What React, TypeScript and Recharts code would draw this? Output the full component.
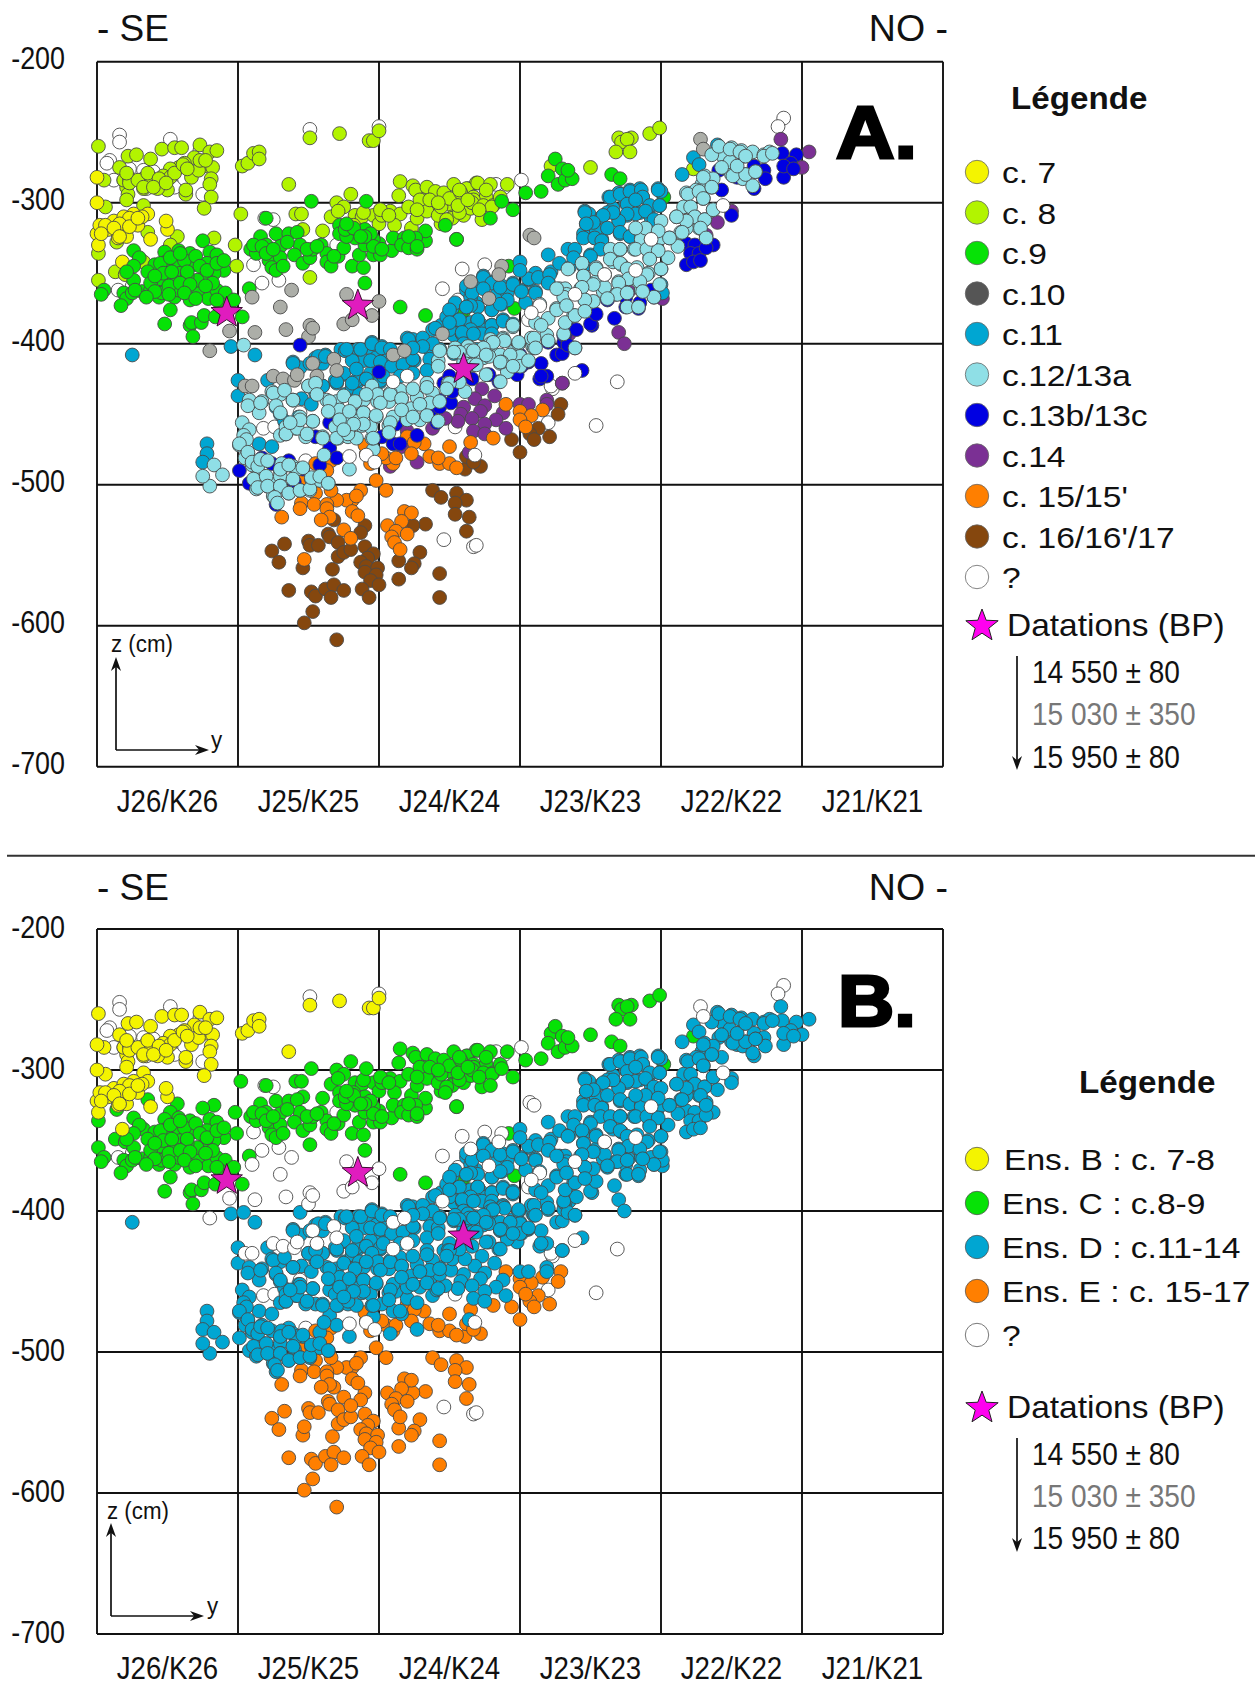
import React from 'react';
import { ScatterChart, Scatter, XAxis, YAxis, CartesianGrid } from 'recharts';

// positions: y in cm along the section, z in cm
type Pt = [number, number];

const squares = ['J26/K26', 'J25/K25', 'J24/K24', 'J23/K23', 'J22/K22', 'J21/K21'];
const squareCentres = [50, 150, 250, 350, 450, 550];
const squareEdges = [0, 100, 200, 300, 400, 500, 600];
const depthTicks = [-200, -300, -400, -500, -600, -700];

const c7: Pt[] = [[0,-282],[0,-300],[0,-322],[1,-330],[2,-316],[8,-319],[12,-313],[15,-325],[19,-310],[21,-324],[26,-308],[29,-316],[36,-308],[50,-319],[49,-313],[38,-326],[18,-342],[23,-311],[16,-315],[6,-316],[32,-310],[3,-322],[12,-318],[16,-324],[23,-317],[29,-311]];

const c8Upper: Pt[] = [[1,-260],[5,-284],[16,-275],[22,-267],[28,-266],[38,-269],[46,-262],[55,-261],[60,-261],[73,-259],[80,-264],[85,-263],[69,-268],[76,-274],[82,-275],[58,-275],[62,-272],[52,-276],[67,-282],[81,-283],[80,-287],[81,-296],[63,-294],[50,-291],[43,-290],[33,-290],[21,-289],[22,-294],[21,-298],[19,-284],[23,-283],[33,-283],[38,-286],[47,-281],[52,-282],[63,-291],[76,-304],[33,-302],[6,-303],[16,-317],[25,-315],[103,-274],[107,-272],[111,-265],[115,-264],[115,-269],[136,-287],[151,-254],[172,-251],[193,-256],[196,-256],[200,-249],[23,-286],[29,-284],[36,-279],[44,-283],[55,-279],[61,-273],[72,-277],[64,-276],[73,-270],[77,-270],[21,-279],[33,-289],[40,-289],[49,-286]];

const c8Lower: Pt[] = [[1,-336],[1,-355],[13,-349],[20,-351],[36,-321],[14,-328],[33,-342],[43,-348],[53,-344],[64,-343],[47,-345],[57,-324],[52,-330],[83,-325],[98,-330],[99,-345],[102,-308],[141,-308],[145,-308],[151,-353],[146,-319],[160,-320],[180,-294],[170,-300],[175,-303],[166,-310],[171,-306],[183,-309],[188,-310],[182,-316],[196,-309],[200,-315],[202,-309],[208,-306],[215,-308],[211,-316],[223,-318],[227,-311],[221,-303],[214,-295],[215,-285],[224,-288],[226,-291],[234,-289],[231,-298],[240,-292],[246,-293],[253,-287],[263,-290],[259,-297],[239,-302],[252,-302],[260,-309],[244,-315],[252,-310],[269,-286],[269,-303],[234,-306],[242,-309],[265,-303],[201,-305],[262,-290],[270,-286],[279,-287],[291,-287],[253,-297],[267,-296],[276,-296],[286,-298],[281,-302],[271,-303],[252,-311],[265,-304],[273,-312],[370,-254],[379,-254],[372,-257],[376,-255],[368,-264],[378,-264],[392,-251],[399,-247],[350,-275],[322,-274],[423,-276],[229,-298],[236,-298],[244,-303],[250,-297],[258,-293],[267,-298],[242,-300],[248,-312],[257,-307],[227,-305],[189,-307],[207,-309],[257,-291],[266,-300],[274,-302],[280,-303],[286,-296],[256,-302],[271,-305],[263,-298],[276,-291]];

const c9: Pt[] = [[120,-311],[152,-299],[191,-299],[247,-316],[255,-326],[26,-334],[30,-339],[75,-327],[48,-335],[58,-334],[66,-336],[57,-343],[49,-342],[41,-344],[36,-349],[59,-350],[68,-344],[80,-335],[85,-337],[78,-343],[90,-348],[83,-350],[77,-351],[26,-355],[5,-362],[3,-365],[19,-364],[21,-368],[17,-373],[25,-364],[32,-363],[38,-362],[44,-367],[49,-357],[46,-364],[55,-367],[58,-362],[66,-369],[72,-363],[79,-368],[85,-362],[91,-364],[97,-369],[82,-357],[71,-355],[64,-352],[54,-355],[45,-354],[38,-357],[52,-376],[48,-386],[66,-387],[67,-385],[74,-385],[76,-380],[68,-395],[84,-381],[103,-381],[108,-361],[87,-371],[62,-341],[109,-333],[116,-324],[120,-330],[113,-336],[122,-341],[127,-322],[130,-331],[136,-322],[142,-321],[144,-330],[140,-337],[130,-339],[124,-346],[127,-348],[132,-345],[146,-343],[151,-339],[153,-333],[159,-330],[163,-336],[163,-342],[166,-345],[171,-338],[175,-332],[181,-345],[189,-346],[186,-337],[196,-337],[201,-337],[190,-330],[200,-329],[196,-326],[183,-325],[172,-316],[172,-322],[190,-319],[177,-324],[209,-334],[210,-325],[218,-325],[216,-330],[221,-332],[227,-333],[233,-327],[233,-320],[226,-325],[190,-357],[215,-374],[233,-380],[260,-377],[258,-378],[287,-299],[295,-305],[304,-293],[315,-292],[279,-311],[255,-326],[325,-269],[320,-281],[327,-287],[330,-276],[332,-284],[337,-283],[334,-277],[365,-280],[371,-283],[292,-345],[296,-375],[402,-296],[45,-343],[52,-339],[59,-336],[70,-338],[73,-345],[47,-350],[53,-349],[64,-349],[78,-348],[85,-343],[90,-341],[41,-352],[51,-359],[59,-357],[66,-358],[77,-359],[41,-363],[51,-365],[62,-364],[70,-368],[85,-369],[26,-345],[21,-349],[27,-362],[35,-367],[111,-330],[117,-331],[120,-336],[125,-333],[135,-328],[149,-333],[156,-331],[168,-338],[176,-319],[182,-318],[194,-322],[196,-331],[202,-333],[190,-324],[187,-324],[177,-315],[221,-324],[227,-331]];

const c10: Pt[] = [[138,-362],[130,-374],[110,-367],[134,-390],[112,-392],[94,-391],[80,-405],[150,-395],[151,-387],[153,-389],[175,-386],[181,-383],[177,-365],[200,-370],[195,-380],[265,-356],[245,-393],[210,-408],[218,-405],[168,-411],[153,-414],[156,-423],[170,-419],[125,-423],[132,-425],[140,-426],[142,-422],[105,-430],[110,-430],[307,-323],[310,-325],[287,-345],[285,-351],[278,-368],[428,-255],[430,-262]];

const c11: Pt[] = [[25,-408],[95,-402],[112,-408],[100,-426],[100,-437],[121,-426],[139,-413],[144,-417],[155,-410],[162,-408],[151,-414],[160,-414],[173,-404],[176,-405],[185,-404],[194,-403],[195,-399],[202,-402],[207,-409],[198,-410],[189,-412],[181,-412],[220,-396],[224,-397],[231,-397],[225,-412],[236,-404],[243,-404],[249,-389],[253,-394],[259,-393],[266,-388],[272,-386],[280,-387],[255,-386],[244,-387],[238,-390],[170,-428],[174,-422],[176,-436],[185,-427],[181,-431],[190,-425],[198,-422],[201,-427],[186,-436],[195,-429],[155,-435],[145,-439],[139,-440],[152,-443],[127,-445],[130,-450],[143,-452],[153,-455],[133,-455],[115,-471],[124,-473],[130,-490],[78,-471],[78,-478],[75,-484],[177,-404],[187,-404],[195,-400],[202,-403],[208,-404],[139,-414],[157,-409],[162,-409],[175,-421],[169,-426],[184,-426],[194,-421],[201,-426],[221,-397],[231,-396],[243,-404],[240,-389],[252,-375],[258,-384],[265,-385],[248,-381],[262,-362],[269,-371],[224,-411],[254,-371],[262,-359],[274,-352],[271,-359],[281,-356],[287,-359],[300,-342],[295,-357],[301,-362],[307,-355],[311,-350],[311,-363],[320,-337],[322,-349],[320,-356],[328,-343],[335,-346],[334,-333],[339,-333],[338,-339],[350,-337],[345,-322],[353,-325],[358,-326],[346,-306],[349,-308],[347,-315],[358,-310],[370,-312],[366,-304],[371,-322],[378,-324],[375,-300],[363,-296],[370,-293],[378,-291],[385,-290],[387,-296],[398,-290],[400,-292],[399,-302],[392,-303],[393,-311],[385,-307],[376,-309],[354,-319],[362,-307],[265,-367],[270,-383],[259,-393],[280,-387],[287,-372],[280,-376],[288,-383],[304,-371],[284,-364],[291,-364],[262,-374],[270,-374],[250,-390],[265,-391],[273,-390],[400,-358],[401,-364],[440,-259],[440,-264],[423,-268],[427,-273],[415,-280],
  [364,-296],[371,-294],[378,-292],[386,-291],[398,-291],[376,-301],[387,-296],[392,-302],[399,-302],[382,-298],[382,-308],[389,-306],[395,-312],[376,-308],[370,-313],[366,-307],[359,-309],[352,-314],[346,-307],[347,-315],[362,-318],[371,-321],[378,-324],[345,-325],[353,-325],[358,-327],[357,-333],[350,-338],[345,-345],
  [274,-353],[280,-357],[266,-364],[274,-361],[286,-360],[295,-358],[301,-363],[306,-354],[300,-348],[313,-353],[321,-351],[320,-357],[311,-364],[291,-369],[280,-376],[286,-372],[270,-383],[280,-387],[288,-384],[265,-373],[257,-383],[250,-376],[265,-390],[259,-392],[273,-393],[280,-393],[295,-386],
  [184,-418],[194,-412],[201,-413],[209,-416],[217,-415],[224,-411],[236,-411],[224,-421],[215,-423],[203,-423],[191,-425],[181,-428],[170,-427],[160,-430],[150,-430],[234,-419],[262,-374],[250,-385],[267,-393],[238,-400],[231,-402],[224,-403],[260,-400],[253,-407],[269,-404]];

const c12: Pt[] = [[104,-401],[80,-501],[83,-486],[89,-493],[75,-494],[108,-440],[117,-441],[115,-449],[124,-434],[130,-436],[103,-456],[108,-461],[104,-465],[101,-472],[107,-478],[105,-481],[110,-486],[114,-494],[113,-503],[118,-494],[124,-498],[130,-494],[131,-485],[139,-487],[136,-506],[125,-508],[130,-501],[144,-504],[151,-504],[152,-496],[164,-499],[158,-497],[161,-479],[179,-489],[196,-475],[130,-465],[134,-464],[134,-459],[141,-460],[148,-466],[160,-466],[171,-467],[178,-466],[184,-467],[195,-467],[188,-458],[178,-456],[165,-448],[150,-430],[155,-428],[163,-440],[170,-441],[189,-440],[199,-441],[195,-430],[199,-436],[207,-441],[216,-439],[215,-433],[208,-435],[198,-452],[189,-449],[207,-458],[194,-459],[181,-451],[175,-454],[223,-446],[229,-454],[227,-438],[234,-428],[238,-435],[249,-428],[242,-412],[254,-406],[260,-413],[265,-403],[274,-409],[281,-407],[288,-396],[295,-388],[299,-400],[309,-402],[286,-414],[266,-415],[295,-406],[279,-397],[269,-407],[261,-434],[257,-427],[250,-428],[172,-447],[210,-452],[184,-455],[169,-459],[220,-454],[236,-442],[254,-403],[263,-402],[274,-410],[286,-413],[291,-420],[288,-397],[279,-400],[295,-387],[299,-400],[310,-403],[308,-396],[319,-394],[311,-385],[320,-382],[326,-375],[338,-380],[332,-366],[328,-361],[343,-361],[346,-369],[352,-370],[345,-352],[344,-343],[354,-346],[354,-356],[359,-363],[368,-365],[370,-356],[377,-354],[384,-356],[386,-362],[391,-350],[371,-333],[364,-333],[381,-333],[372,-344],[366,-342],[392,-339],[405,-339],[400,-313],[388,-319],[397,-331],[386,-325],[411,-310],[419,-303],[418,-293],[424,-310],[430,-297],[437,-305],[427,-318],[414,-321],[418,-318],[412,-331],[429,-287],[436,-289],[425,-291],[431,-281],[437,-283],[444,-267],[444,-275],[450,-261],[450,-280],[449,-271],[457,-263],[465,-264],[473,-266],[477,-264],[458,-283],[465,-288],[436,-266],
  [386,-326],[393,-326],[400,-325],[406,-325],[389,-318],[398,-320],[382,-318],[371,-333],[382,-333],[390,-333],[398,-334],[392,-340],[364,-340],[371,-343],[383,-346],[400,-347],[390,-351],[376,-347],[360,-351],[354,-347],[345,-352],[334,-347],[377,-354],[370,-357],[385,-356],[399,-358],[360,-360],[352,-358],[344,-360],[332,-361],[369,-365],[362,-368],[346,-369],[333,-365],[376,-374],[384,-374],[395,-367],[387,-363],[376,-364],
  [419,-294],[427,-292],[430,-297],[416,-303],[421,-303],[424,-310],[431,-312],[418,-313],[428,-318],[415,-321],[432,-325],[437,-305],[411,-310],[430,-282],[436,-289],[443,-275],[451,-281],[460,-280],[467,-278],[454,-274],[441,-260],[449,-262],[456,-264],[460,-267],[473,-267],[479,-265],
  [314,-372],[315,-387],[310,-396],[320,-398],[299,-399],[289,-398],[281,-399],[274,-403],[264,-405],[257,-406],[286,-408],[300,-409],[293,-408],[311,-403],[278,-409],[269,-415],[287,-413],[300,-416],[331,-393],[339,-403],[332,-385],[326,-376],[339,-380],[331,-367],[326,-361],[346,-377],[333,-373],
  [243,-405],[253,-406],[267,-405],[276,-408],[286,-413],[295,-416],[306,-412],[276,-422],[286,-427],[242,-416],
  [156,-436],[165,-441],[175,-437],[183,-441],[191,-436],[201,-442],[208,-436],[216,-439],[224,-432],[234,-431],[243,-441],[229,-443],[248,-432],
  [144,-452],[153,-455],[164,-448],[172,-454],[179,-448],[189,-449],[198,-451],[208,-456],[216,-447],[224,-452],[234,-451],[242,-455],
  [134,-464],[142,-460],[149,-464],[160,-467],[170,-467],[178,-464],[189,-457],[196,-467],[182,-457],[175,-461],[207,-463],
  [107,-444],[116,-442],[125,-435],[133,-433],[127,-444],[139,-440],[144,-454],[137,-456],[130,-449],
  [106,-468],[101,-471],[107,-477],[110,-484],[114,-487],[111,-496],[120,-494],[114,-502],[121,-501],[130,-501],[136,-506],[126,-509],[128,-513],[144,-504],[151,-503],[142,-489],[130,-489],[152,-495],[158,-494],[164,-499],[116,-482],[121,-483],[136,-486],[146,-488],[139,-496]];

const c13: Pt[] = [[144,-401],[200,-420],[186,-451],[165,-456],[155,-466],[165,-474],[170,-481],[158,-486],[101,-490],[117,-481],[124,-485],[108,-499],[121,-501],[127,-514],[146,-489],[136,-483],[140,-498],[202,-466],[210,-471],[227,-465],[241,-456],[237,-447],[243,-445],[243,-440],[251,-442],[252,-434],[246,-428],[250,-423],[266,-425],[277,-422],[285,-427],[300,-408],[300,-416],[296,-415],[306,-413],[315,-414],[314,-425],[319,-423],[320,-399],[326,-408],[330,-407],[339,-403],[332,-394],[333,-387],[340,-390],[351,-387],[344,-419],[331,-399],[212,-457],[215,-471],[305,-413],[301,-416],[315,-423],[293,-415],[298,-422],[278,-422],[331,-394],[334,-401],[350,-386],[354,-379],[367,-382],[375,-374],[384,-375],[385,-371],[375,-367],[362,-369],[395,-367],[400,-347],[393,-362],[406,-325],[418,-329],[424,-330],[421,-336],[427,-336],[437,-330],[431,-312],[450,-309],[418,-344],[423,-342],[428,-341],[432,-332],[443,-291],[454,-282],[460,-280],[466,-290],[459,-267],[466,-274],[473,-277],[474,-283],[467,-278],[486,-265],[496,-266],[492,-272],[487,-282],[487,-274],[494,-276],[441,-277]];

const c14: Pt[] = [[273,-432],[282,-437],[268,-439],[275,-444],[260,-445],[272,-448],[288,-449],[258,-450],[266,-453],[283,-454],[275,-457],[256,-455],[290,-460],[267,-462],[275,-464],[300,-443],[306,-443],[319,-440],[319,-443],[330,-428],[247,-453],[238,-460],[220,-462],[216,-473],[227,-484],[208,-487],[264,-477],[335,-391],[370,-392],[374,-400],[440,-314],[432,-323],[450,-306],[401,-368],[485,-255],[505,-264],[500,-275],[377,-363],[330,-428],[335,-393]];

const c15: Pt[] = [[290,-443],[316,-447],[300,-448],[308,-451],[300,-454],[304,-459],[281,-467],[265,-470],[250,-473],[232,-471],[220,-466],[225,-470],[223,-478],[236,-480],[243,-485],[250,-485],[255,-488],[242,-481],[210,-485],[205,-481],[212,-481],[202,-478],[194,-485],[198,-497],[205,-504],[187,-504],[181,-511],[177,-511],[184,-508],[181,-519],[185,-522],[170,-511],[166,-504],[155,-506],[145,-513],[154,-514],[144,-517],[163,-514],[163,-517],[165,-523],[159,-525],[131,-523],[218,-519],[223,-520],[216,-526],[206,-529],[212,-533],[220,-535],[209,-537],[211,-541],[215,-546],[175,-532],[180,-538],[147,-553],[166,-483],[163,-490],[155,-485],[145,-497],[191,-478],[190,-472]];

const c16: Pt[] = [[329,-443],[327,-450],[313,-460],[307,-464],[310,-468],[321,-466],[294,-468],[300,-477],[272,-487],[261,-489],[262,-480],[267,-484],[238,-504],[244,-509],[255,-506],[262,-511],[254,-513],[254,-521],[264,-523],[262,-533],[233,-528],[224,-529],[190,-529],[187,-534],[164,-535],[165,-537],[171,-541],[168,-525],[150,-540],[151,-543],[157,-543],[133,-542],[124,-547],[129,-555],[146,-559],[167,-560],[171,-551],[175,-548],[180,-546],[190,-544],[196,-549],[192,-552],[187,-555],[191,-558],[199,-559],[190,-562],[198,-564],[194,-568],[200,-571],[188,-574],[193,-580],[214,-554],[229,-548],[225,-556],[223,-559],[214,-567],[243,-563],[243,-580],[136,-575],[152,-576],[155,-579],[162,-574],[168,-571],[175,-575],[166,-580],[153,-590],[147,-598],[170,-610]];

const unknownLow: Pt[] = [[16,-252],[16,-257],[9,-270],[7,-272],[12,-284],[19,-284],[23,-276],[33,-277],[40,-278],[39,-283],[47,-284],[55,-289],[35,-290],[52,-255],[73,-263],[62,-283],[75,-294],[151,-248],[200,-246],[119,-311],[125,-312],[111,-344],[117,-357],[129,-355],[15,-362],[25,-359],[245,-361],[259,-347],[256,-369],[170,-330],[118,-460],[126,-459],[144,-449],[148,-483],[160,-430],[254,-459],[320,-456],[323,-432],[354,-458],[246,-539],[267,-544],[269,-543],[275,-344],[306,-383],[487,-240],[483,-246],[301,-284],[289,-289],[283,-287],[369,-427],[322,-430]];

const unknownTop: Pt[] = [[179,-480],[191,-479],[197,-484],[268,-479],[220,-423],[210,-427],[393,-326],[444,-302],[360,-351],[382,-348],[314,-373],[308,-378],[339,-421],[339,-365]];

const datings: Pt[] = [[92,-378],[185,-373],[260,-418]];

const YELLOW = '#F4F400';
const LIME = '#B2F400';
const GREEN = '#06E206';
const GREY = '#ACAEA8';
const TEAL = '#00A6D2';
const PALE = '#8FDFE6';
const BLUE = '#0000E2';
const PURPLE = '#7B3094';
const ORANGE = '#FF7F00';
const BROWN = '#85470E';
const WHITE = '#FFFFFF';
const STAR = '#E01CBE';

const layersA = [
  { data: unknownLow, fill: WHITE },
  { data: c8Upper, fill: LIME },
  { data: c8Lower, fill: LIME },
  { data: c7, fill: YELLOW },
  { data: c9, fill: GREEN },
  { data: c16, fill: BROWN },
  { data: c14, fill: PURPLE },
  { data: c15, fill: ORANGE },
  { data: c11, fill: TEAL },
  { data: c10, fill: GREY },
  { data: c13, fill: BLUE },
  { data: c12, fill: PALE },
  { data: unknownTop, fill: WHITE },
];

const layersB = [
  { data: unknownLow, fill: WHITE },
  { data: c8Lower, fill: GREEN },
  { data: c9, fill: GREEN },
  { data: c8Upper, fill: YELLOW },
  { data: c7, fill: YELLOW },
  { data: c16, fill: ORANGE },
  { data: c15, fill: ORANGE },
  { data: c14, fill: TEAL },
  { data: c13, fill: TEAL },
  { data: c11, fill: TEAL },
  { data: c12, fill: TEAL },
  { data: c10, fill: WHITE },
  { data: unknownTop, fill: WHITE },
];

const legendA = [
  ['c. 7', YELLOW], ['c. 8', LIME], ['c.9', GREEN], ['c.10', '#555555'], ['c.11', TEAL], ['c.12/13a', PALE],
  ['c.13b/13c', BLUE], ['c.14', PURPLE], ['c. 15/15\'', ORANGE], ['c. 16/16\'/17', BROWN], ['?', WHITE],
];
const legendB = [
  ['Ens. B : c. 7-8', YELLOW], ['Ens. C : c.8-9', GREEN], ['Ens. D : c.11-14', TEAL], ['Ens. E : c. 15-17', ORANGE], ['?', WHITE],
];
const dates = ['14 550 ± 80', '15 030 ± 350', '15 950 ± 80'];

const FONT = '"Liberation Sans", Arial, sans-serif';

const starPoints = (cx: number, cy: number, r: number) => {
  const pts: string[] = [];
  for (let i = 0; i < 10; i++) {
    const rad = i % 2 === 0 ? r : r * 0.42;
    const a = -Math.PI / 2 + (i * Math.PI) / 5;
    pts.push(`${cx + rad * Math.cos(a)},${cy + rad * Math.sin(a)}`);
  }
  return pts.join(' ');
};

const toRows = (pts: Pt[]) => pts.map(([y, z]) => ({ y, z }));

const Dot = (props: any) => (
  <circle cx={props.cx} cy={props.cy} r={6.9} fill={props.fill} stroke="#4a4a4a" strokeWidth={0.9} />
);
const Star = (props: any) => (
  <polygon points={starPoints(props.cx, props.cy, 16.5)} fill={STAR} stroke="#3a1030" strokeWidth={1} />
);

const DepthTick = ({ y, payload, dy }: any) => (
  <text transform={`translate(65,${y + dy}) scale(0.84,1)`} textAnchor="end" fontFamily={FONT} fontSize={32} fill="#111">
    {payload.value}
  </text>
);

const SquareTick = ({ x, y, index }: any) => (
  <text transform={`translate(${x},${y + 45}) scale(0.865,1)`} textAnchor="middle" fontFamily={FONT} fontSize={32} fill="#111">
    {squares[index]}
  </text>
);

const Section = ({ layers, top, height, plotTop, plotBottom, tickDy }: any) => (
  <div style={{ position: 'absolute', left: 0, top }}>
    <ScatterChart width={1259} height={height} margin={{ top: plotTop - top, right: 316, bottom: 0, left: 0 }}>
      <CartesianGrid
        stroke="#111"
        strokeWidth={1.9}
        horizontalValues={depthTicks}
        verticalValues={squareEdges}
      />
      <XAxis
        type="number"
        dataKey="y"
        domain={[0, 600]}
        ticks={squareCentres}
        height={top + height - plotBottom}
        axisLine={false}
        tickLine={false}
        tickSize={0}
        tickMargin={0}
        interval={0}
        tick={<SquareTick />}
      />
      <YAxis
        type="number"
        dataKey="z"
        domain={[-700, -200]}
        ticks={depthTicks}
        width={97}
        axisLine={false}
        tickLine={false}
        interval={0}
        tick={<DepthTick dy={tickDy} />}
      />
      {layers.map((l: any, i: number) => (
        <Scatter key={i} data={toRows(l.data)} fill={l.fill} shape={<Dot />} isAnimationActive={false} />
      ))}
      <Scatter data={toRows(datings)} shape={<Star />} isAnimationActive={false} />
    </ScatterChart>
  </div>
);

// stretched text: the figure was resized unevenly, so glyphs are wider or narrower than the font
const T = ({ x, y, sx = 1, size, bold, fill = '#111', anchor = 'start', children }: any) => (
  <text
    transform={`translate(${x},${y}) scale(${sx},1)`}
    fontFamily={FONT}
    fontSize={size}
    fontWeight={bold ? 700 : 400}
    fill={fill}
    textAnchor={anchor}
  >
    {children}
  </text>
);

const Arrow = ({ x1, y1, x2, y2, head = 14 }: any) => {
  const a = Math.atan2(y2 - y1, x2 - x1);
  const p = (d: number, s: number) =>
    `${x2 - d * Math.cos(a) - s * Math.sin(a)},${y2 - d * Math.sin(a) + s * Math.cos(a)}`;
  return (
    <g>
      <line x1={x1} y1={y1} x2={x2 - 6 * Math.cos(a)} y2={y2 - 6 * Math.sin(a)} stroke="#111" strokeWidth={1.7} />
      <polygon points={`${x2},${y2} ${p(head, head * 0.36)} ${p(head * 0.7, 0)} ${p(head, -head * 0.36)}`} fill="#111" />
    </g>
  );
};

const Overlay = () => (
  <svg width={1259} height={1686} style={{ position: 'absolute', left: 0, top: 0, pointerEvents: 'none' }}>
    <line x1={7} y1={855.7} x2={1255} y2={855.7} stroke="#333" strokeWidth={2} />

    <T x={97} y={40.5} size={37}>- SE</T>
    <T x={948} y={40.5} size={37.5} anchor="end">NO -</T>
    <T x={97} y={900} size={37}>- SE</T>
    <T x={948} y={900} size={37.5} anchor="end">NO -</T>

    <g stroke="#000" strokeWidth={3}>
      <T x={836} y={158} size={75} bold sx={1.08} fill="#000">A.</T>
      <T x={838} y={1026} size={72} bold sx={1.08} fill="#000">B.</T>
    </g>

    {/* axis keys */}
    <Arrow x1={116} y1={750} x2={116} y2={657} />
    <Arrow x1={116} y1={750} x2={209} y2={750} />
    <T x={111} y={652} size={24} sx={0.93}>z (cm)</T>
    <T x={211} y={748} size={24} sx={0.93}>y</T>
    <Arrow x1={111} y1={1616} x2={111} y2={1523} />
    <Arrow x1={111} y1={1616} x2={204} y2={1616} />
    <T x={107} y={1519} size={24} sx={0.93}>z (cm)</T>
    <T x={207} y={1614} size={24} sx={0.93}>y</T>

    {/* legend A */}
    <T x={1011} y={109} size={31} bold sx={1.07}>Légende</T>
    {legendA.map(([label, fill], i) => (
      <g key={label}>
        <circle cx={977} cy={172 + i * 40.5} r={11.7} fill={fill} stroke="#666" strokeWidth={0.8} />
        <T x={1002} y={183 + i * 40.5} size={30} sx={1.12}>{label}</T>
      </g>
    ))}
    <polygon points={starPoints(982, 626, 17)} fill="#FF00F0" stroke="#222" strokeWidth={1} />
    <T x={1007} y={636} size={31} sx={1.08}>Datations (BP)</T>
    {dates.map((d, i) => (
      <T key={d} x={1032} y={[683, 725, 768][i]} size={31} sx={0.905} fill={i === 1 ? '#777' : '#111'}>{d}</T>
    ))}
    <Arrow x1={1017} y1={656} x2={1017} y2={770} />

    {/* legend B */}
    <T x={1079} y={1093} size={31} bold sx={1.07}>Légende</T>
    {legendB.map(([label, fill], i) => (
      <g key={label}>
        <circle cx={977} cy={1159 + i * 44} r={11.7} fill={fill} stroke="#555" strokeWidth={0.8} />
        <T x={i === 0 ? 1004 : 1002} y={1170 + i * 44} size={30} sx={1.12}>{label}</T>
      </g>
    ))}
    <polygon points={starPoints(982, 1408, 17)} fill="#FF00F0" stroke="#222" strokeWidth={1} />
    <T x={1007} y={1418} size={31} sx={1.08}>Datations (BP)</T>
    {dates.map((d, i) => (
      <T key={d} x={1032} y={[1465, 1507, 1549][i]} size={31} sx={0.905} fill={i === 1 ? '#777' : '#111'}>{d}</T>
    ))}
    <Arrow x1={1017} y1={1438} x2={1017} y2={1552} />
  </svg>
);

export default function App() {
  return (
    <div style={{ position: 'absolute', left: 0, top: 0, width: 1259, height: 1686, background: '#fff' }}>
      <Section layers={layersA} top={0} height={850} plotTop={61.7} plotBottom={766.7} tickDy={7} />
      <Section layers={layersB} top={858} height={828} plotTop={929} plotBottom={1634} tickDy={9} />
      <Overlay />
    </div>
  );
}
